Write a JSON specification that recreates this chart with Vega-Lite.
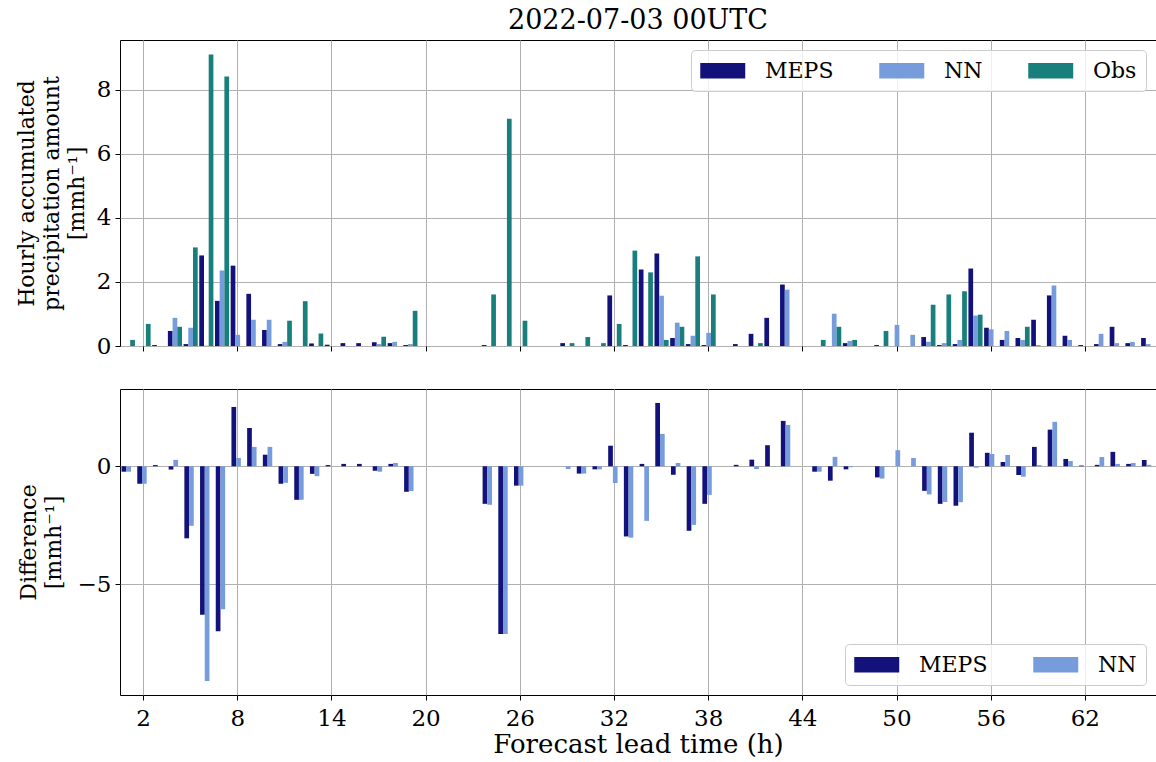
{
  "$schema": "https://vega.github.io/schema/vega-lite/v6.json",
  "background": "white",
  "padding": {"left": 14, "top": 6, "right": 0, "bottom": 0},
  "spacing": 29,
  "config": {
    "font": "DejaVu Serif",
    "view": {"stroke": "#000000", "strokeWidth": 1},
    "axis": {
      "labelFont": "DejaVu Serif", "titleFont": "DejaVu Serif",
      "labelFontSize": 23, "titleFontSize": 22, "titleFontWeight": "normal",
      "labelColor": "#000000", "titleColor": "#000000", "tickColor": "#000000",
      "domain": false, "gridColor": "#b0b0b0", "gridWidth": 1, "gridOpacity": 1,
      "tickSize": 5, "tickWidth": 1, "labelPadding": 4, "zindex": 1, "titleLineHeight": 25
    },
    "legend": {
      "title": null, "direction": "horizontal", "gridAlign": "each",
      "symbolType": "M-1,-0.7H3V0.7H-1Z", "symbolSize": 506, "symbolStrokeWidth": 0, "symbolOpacity": 1,
      "labelFont": "DejaVu Serif", "labelFontSize": 22, "labelColor": "#000000",
      "labelOffset": 42, "columnPadding": 45, "padding": 9, "offset": 10,
      "fillColor": "rgba(255,255,255,0.8)", "strokeColor": "#cccccc", "strokeWidth": 1, "cornerRadius": 4
    }
  },
  "datasets": {
    "top": [
      {"lead":1,"model":"MEPS","value":0},{"lead":1,"model":"NN","value":0},{"lead":1,"model":"Obs","value":0.19},
      {"lead":2,"model":"MEPS","value":0},{"lead":2,"model":"NN","value":0},{"lead":2,"model":"Obs","value":0.69},
      {"lead":3,"model":"MEPS","value":0.03},{"lead":3,"model":"NN","value":0},{"lead":3,"model":"Obs","value":0},
      {"lead":4,"model":"MEPS","value":0.47},{"lead":4,"model":"NN","value":0.88},{"lead":4,"model":"Obs","value":0.6},
      {"lead":5,"model":"MEPS","value":0.06},{"lead":5,"model":"NN","value":0.57},{"lead":5,"model":"Obs","value":3.08},
      {"lead":6,"model":"MEPS","value":2.83},{"lead":6,"model":"NN","value":0.01},{"lead":6,"model":"Obs","value":9.11},
      {"lead":7,"model":"MEPS","value":1.41},{"lead":7,"model":"NN","value":2.36},{"lead":7,"model":"Obs","value":8.42},
      {"lead":8,"model":"MEPS","value":2.51},{"lead":8,"model":"NN","value":0.35},{"lead":8,"model":"Obs","value":0},
      {"lead":9,"model":"MEPS","value":1.63},{"lead":9,"model":"NN","value":0.82},{"lead":9,"model":"Obs","value":0},
      {"lead":10,"model":"MEPS","value":0.5},{"lead":10,"model":"NN","value":0.82},{"lead":10,"model":"Obs","value":0},
      {"lead":11,"model":"MEPS","value":0.06},{"lead":11,"model":"NN","value":0.13},{"lead":11,"model":"Obs","value":0.79},
      {"lead":12,"model":"MEPS","value":0},{"lead":12,"model":"NN","value":0},{"lead":12,"model":"Obs","value":1.4},
      {"lead":13,"model":"MEPS","value":0.08},{"lead":13,"model":"NN","value":0},{"lead":13,"model":"Obs","value":0.39},
      {"lead":14,"model":"MEPS","value":0.04},{"lead":14,"model":"NN","value":0},{"lead":14,"model":"Obs","value":0},
      {"lead":15,"model":"MEPS","value":0.09},{"lead":15,"model":"NN","value":0},{"lead":15,"model":"Obs","value":0},
      {"lead":16,"model":"MEPS","value":0.09},{"lead":16,"model":"NN","value":0},{"lead":16,"model":"Obs","value":0},
      {"lead":17,"model":"MEPS","value":0.12},{"lead":17,"model":"NN","value":0.06},{"lead":17,"model":"Obs","value":0.29},
      {"lead":18,"model":"MEPS","value":0.09},{"lead":18,"model":"NN","value":0.13},{"lead":18,"model":"Obs","value":0},
      {"lead":19,"model":"MEPS","value":0.03},{"lead":19,"model":"NN","value":0.06},{"lead":19,"model":"Obs","value":1.1},
      {"lead":20,"model":"MEPS","value":0},{"lead":20,"model":"NN","value":0},{"lead":20,"model":"Obs","value":0},
      {"lead":21,"model":"MEPS","value":0},{"lead":21,"model":"NN","value":0},{"lead":21,"model":"Obs","value":0},
      {"lead":22,"model":"MEPS","value":0},{"lead":22,"model":"NN","value":0},{"lead":22,"model":"Obs","value":0},
      {"lead":23,"model":"MEPS","value":0},{"lead":23,"model":"NN","value":0},{"lead":23,"model":"Obs","value":0},
      {"lead":24,"model":"MEPS","value":0.03},{"lead":24,"model":"NN","value":0},{"lead":24,"model":"Obs","value":1.61},
      {"lead":25,"model":"MEPS","value":0},{"lead":25,"model":"NN","value":0},{"lead":25,"model":"Obs","value":7.1},
      {"lead":26,"model":"MEPS","value":0},{"lead":26,"model":"NN","value":0},{"lead":26,"model":"Obs","value":0.79},
      {"lead":27,"model":"MEPS","value":0},{"lead":27,"model":"NN","value":0},{"lead":27,"model":"Obs","value":0},
      {"lead":28,"model":"MEPS","value":0},{"lead":28,"model":"NN","value":0},{"lead":28,"model":"Obs","value":0},
      {"lead":29,"model":"MEPS","value":0.09},{"lead":29,"model":"NN","value":0},{"lead":29,"model":"Obs","value":0.09},
      {"lead":30,"model":"MEPS","value":0},{"lead":30,"model":"NN","value":0},{"lead":30,"model":"Obs","value":0.28},
      {"lead":31,"model":"MEPS","value":0},{"lead":31,"model":"NN","value":0},{"lead":31,"model":"Obs","value":0.09},
      {"lead":32,"model":"MEPS","value":1.58},{"lead":32,"model":"NN","value":0},{"lead":32,"model":"Obs","value":0.69},
      {"lead":33,"model":"MEPS","value":0.03},{"lead":33,"model":"NN","value":0},{"lead":33,"model":"Obs","value":2.98},
      {"lead":34,"model":"MEPS","value":2.39},{"lead":34,"model":"NN","value":0},{"lead":34,"model":"Obs","value":2.3},
      {"lead":35,"model":"MEPS","value":2.89},{"lead":35,"model":"NN","value":1.57},{"lead":35,"model":"Obs","value":0.19},
      {"lead":36,"model":"MEPS","value":0.25},{"lead":36,"model":"NN","value":0.73},{"lead":36,"model":"Obs","value":0.6},
      {"lead":37,"model":"MEPS","value":0.06},{"lead":37,"model":"NN","value":0.32},{"lead":37,"model":"Obs","value":2.8},
      {"lead":38,"model":"MEPS","value":0.03},{"lead":38,"model":"NN","value":0.41},{"lead":38,"model":"Obs","value":1.61},
      {"lead":39,"model":"MEPS","value":0},{"lead":39,"model":"NN","value":0},{"lead":39,"model":"Obs","value":0},
      {"lead":40,"model":"MEPS","value":0.06},{"lead":40,"model":"NN","value":0},{"lead":40,"model":"Obs","value":0},
      {"lead":41,"model":"MEPS","value":0.38},{"lead":41,"model":"NN","value":0},{"lead":41,"model":"Obs","value":0.09},
      {"lead":42,"model":"MEPS","value":0.88},{"lead":42,"model":"NN","value":0},{"lead":42,"model":"Obs","value":0},
      {"lead":43,"model":"MEPS","value":1.92},{"lead":43,"model":"NN","value":1.76},{"lead":43,"model":"Obs","value":0},
      {"lead":44,"model":"MEPS","value":0},{"lead":44,"model":"NN","value":0},{"lead":44,"model":"Obs","value":0},
      {"lead":45,"model":"MEPS","value":0},{"lead":45,"model":"NN","value":0},{"lead":45,"model":"Obs","value":0.19},
      {"lead":46,"model":"MEPS","value":0},{"lead":46,"model":"NN","value":1.01},{"lead":46,"model":"Obs","value":0.6},
      {"lead":47,"model":"MEPS","value":0.09},{"lead":47,"model":"NN","value":0.16},{"lead":47,"model":"Obs","value":0.19},
      {"lead":48,"model":"MEPS","value":0},{"lead":48,"model":"NN","value":0},{"lead":48,"model":"Obs","value":0},
      {"lead":49,"model":"MEPS","value":0.03},{"lead":49,"model":"NN","value":0},{"lead":49,"model":"Obs","value":0.47},
      {"lead":50,"model":"MEPS","value":0},{"lead":50,"model":"NN","value":0.66},{"lead":50,"model":"Obs","value":0},
      {"lead":51,"model":"MEPS","value":0},{"lead":51,"model":"NN","value":0.35},{"lead":51,"model":"Obs","value":0},
      {"lead":52,"model":"MEPS","value":0.28},{"lead":52,"model":"NN","value":0.13},{"lead":52,"model":"Obs","value":1.29},
      {"lead":53,"model":"MEPS","value":0.03},{"lead":53,"model":"NN","value":0.09},{"lead":53,"model":"Obs","value":1.61},
      {"lead":54,"model":"MEPS","value":0.06},{"lead":54,"model":"NN","value":0.19},{"lead":54,"model":"Obs","value":1.71},
      {"lead":55,"model":"MEPS","value":2.42},{"lead":55,"model":"NN","value":0.95},{"lead":55,"model":"Obs","value":0.98},
      {"lead":56,"model":"MEPS","value":0.57},{"lead":56,"model":"NN","value":0.52},{"lead":56,"model":"Obs","value":0},
      {"lead":57,"model":"MEPS","value":0.19},{"lead":57,"model":"NN","value":0.47},{"lead":57,"model":"Obs","value":0},
      {"lead":58,"model":"MEPS","value":0.25},{"lead":58,"model":"NN","value":0.19},{"lead":58,"model":"Obs","value":0.6},
      {"lead":59,"model":"MEPS","value":0.82},{"lead":59,"model":"NN","value":0.03},{"lead":59,"model":"Obs","value":0},
      {"lead":60,"model":"MEPS","value":1.58},{"lead":60,"model":"NN","value":1.89},{"lead":60,"model":"Obs","value":0},
      {"lead":61,"model":"MEPS","value":0.32},{"lead":61,"model":"NN","value":0.19},{"lead":61,"model":"Obs","value":0},
      {"lead":62,"model":"MEPS","value":0.03},{"lead":62,"model":"NN","value":0},{"lead":62,"model":"Obs","value":0},
      {"lead":63,"model":"MEPS","value":0.06},{"lead":63,"model":"NN","value":0.38},{"lead":63,"model":"Obs","value":0},
      {"lead":64,"model":"MEPS","value":0.6},{"lead":64,"model":"NN","value":0.09},{"lead":64,"model":"Obs","value":0},
      {"lead":65,"model":"MEPS","value":0.09},{"lead":65,"model":"NN","value":0.13},{"lead":65,"model":"Obs","value":0},
      {"lead":66,"model":"MEPS","value":0.25},{"lead":66,"model":"NN","value":0.06},{"lead":66,"model":"Obs","value":0}
    ],
    "bottom": [
      {"lead":1,"model":"MEPS","value":-0.23},{"lead":1,"model":"NN","value":-0.23},
      {"lead":2,"model":"MEPS","value":-0.74},{"lead":2,"model":"NN","value":-0.74},
      {"lead":3,"model":"MEPS","value":0.05},{"lead":3,"model":"NN","value":0},
      {"lead":4,"model":"MEPS","value":-0.14},{"lead":4,"model":"NN","value":0.27},
      {"lead":5,"model":"MEPS","value":-3.05},{"lead":5,"model":"NN","value":-2.52},
      {"lead":6,"model":"MEPS","value":-6.28},{"lead":6,"model":"NN","value":-9.09},
      {"lead":7,"model":"MEPS","value":-6.98},{"lead":7,"model":"NN","value":-6.05},
      {"lead":8,"model":"MEPS","value":2.51},{"lead":8,"model":"NN","value":0.35},
      {"lead":9,"model":"MEPS","value":1.62},{"lead":9,"model":"NN","value":0.82},
      {"lead":10,"model":"MEPS","value":0.49},{"lead":10,"model":"NN","value":0.82},
      {"lead":11,"model":"MEPS","value":-0.74},{"lead":11,"model":"NN","value":-0.7},
      {"lead":12,"model":"MEPS","value":-1.42},{"lead":12,"model":"NN","value":-1.42},
      {"lead":13,"model":"MEPS","value":-0.32},{"lead":13,"model":"NN","value":-0.42},
      {"lead":14,"model":"MEPS","value":0.05},{"lead":14,"model":"NN","value":0},
      {"lead":15,"model":"MEPS","value":0.1},{"lead":15,"model":"NN","value":0},
      {"lead":16,"model":"MEPS","value":0.1},{"lead":16,"model":"NN","value":0},
      {"lead":17,"model":"MEPS","value":-0.19},{"lead":17,"model":"NN","value":-0.23},
      {"lead":18,"model":"MEPS","value":0.1},{"lead":18,"model":"NN","value":0.14},
      {"lead":19,"model":"MEPS","value":-1.08},{"lead":19,"model":"NN","value":-1.05},
      {"lead":20,"model":"MEPS","value":0},{"lead":20,"model":"NN","value":0},
      {"lead":21,"model":"MEPS","value":0},{"lead":21,"model":"NN","value":0},
      {"lead":22,"model":"MEPS","value":0},{"lead":22,"model":"NN","value":0},
      {"lead":23,"model":"MEPS","value":0},{"lead":23,"model":"NN","value":0},
      {"lead":24,"model":"MEPS","value":-1.59},{"lead":24,"model":"NN","value":-1.63},
      {"lead":25,"model":"MEPS","value":-7.1},{"lead":25,"model":"NN","value":-7.1},
      {"lead":26,"model":"MEPS","value":-0.82},{"lead":26,"model":"NN","value":-0.82},
      {"lead":27,"model":"MEPS","value":0},{"lead":27,"model":"NN","value":0},
      {"lead":28,"model":"MEPS","value":0},{"lead":28,"model":"NN","value":0},
      {"lead":29,"model":"MEPS","value":0},{"lead":29,"model":"NN","value":-0.12},
      {"lead":30,"model":"MEPS","value":-0.31},{"lead":30,"model":"NN","value":-0.31},
      {"lead":31,"model":"MEPS","value":-0.13},{"lead":31,"model":"NN","value":-0.13},
      {"lead":32,"model":"MEPS","value":0.87},{"lead":32,"model":"NN","value":-0.71},
      {"lead":33,"model":"MEPS","value":-2.97},{"lead":33,"model":"NN","value":-3.02},
      {"lead":34,"model":"MEPS","value":0.1},{"lead":34,"model":"NN","value":-2.31},
      {"lead":35,"model":"MEPS","value":2.68},{"lead":35,"model":"NN","value":1.37},
      {"lead":36,"model":"MEPS","value":-0.36},{"lead":36,"model":"NN","value":0.14},
      {"lead":37,"model":"MEPS","value":-2.73},{"lead":37,"model":"NN","value":-2.48},
      {"lead":38,"model":"MEPS","value":-1.59},{"lead":38,"model":"NN","value":-1.21},
      {"lead":39,"model":"MEPS","value":0},{"lead":39,"model":"NN","value":0},
      {"lead":40,"model":"MEPS","value":0.06},{"lead":40,"model":"NN","value":0},
      {"lead":41,"model":"MEPS","value":0.28},{"lead":41,"model":"NN","value":-0.12},
      {"lead":42,"model":"MEPS","value":0.89},{"lead":42,"model":"NN","value":0},
      {"lead":43,"model":"MEPS","value":1.92},{"lead":43,"model":"NN","value":1.75},
      {"lead":44,"model":"MEPS","value":0},{"lead":44,"model":"NN","value":0},
      {"lead":45,"model":"MEPS","value":-0.23},{"lead":45,"model":"NN","value":-0.23},
      {"lead":46,"model":"MEPS","value":-0.61},{"lead":46,"model":"NN","value":0.4},
      {"lead":47,"model":"MEPS","value":-0.13},{"lead":47,"model":"NN","value":-0.04},
      {"lead":48,"model":"MEPS","value":0},{"lead":48,"model":"NN","value":0},
      {"lead":49,"model":"MEPS","value":-0.47},{"lead":49,"model":"NN","value":-0.52},
      {"lead":50,"model":"MEPS","value":0},{"lead":50,"model":"NN","value":0.68},
      {"lead":51,"model":"MEPS","value":0},{"lead":51,"model":"NN","value":0.35},
      {"lead":52,"model":"MEPS","value":-1.04},{"lead":52,"model":"NN","value":-1.19},
      {"lead":53,"model":"MEPS","value":-1.59},{"lead":53,"model":"NN","value":-1.51},
      {"lead":54,"model":"MEPS","value":-1.67},{"lead":54,"model":"NN","value":-1.52},
      {"lead":55,"model":"MEPS","value":1.42},{"lead":55,"model":"NN","value":-0.06},
      {"lead":56,"model":"MEPS","value":0.57},{"lead":56,"model":"NN","value":0.52},
      {"lead":57,"model":"MEPS","value":0.18},{"lead":57,"model":"NN","value":0.48},
      {"lead":58,"model":"MEPS","value":-0.37},{"lead":58,"model":"NN","value":-0.44},
      {"lead":59,"model":"MEPS","value":0.82},{"lead":59,"model":"NN","value":0.05},
      {"lead":60,"model":"MEPS","value":1.55},{"lead":60,"model":"NN","value":1.88},
      {"lead":61,"model":"MEPS","value":0.31},{"lead":61,"model":"NN","value":0.22},
      {"lead":62,"model":"MEPS","value":0.03},{"lead":62,"model":"NN","value":0},
      {"lead":63,"model":"MEPS","value":0.06},{"lead":63,"model":"NN","value":0.39},
      {"lead":64,"model":"MEPS","value":0.61},{"lead":64,"model":"NN","value":0.1},
      {"lead":65,"model":"MEPS","value":0.1},{"lead":65,"model":"NN","value":0.14},
      {"lead":66,"model":"MEPS","value":0.26},{"lead":66,"model":"NN","value":0.06}
    ]
  },
  "vconcat": [
    {
      "width": 1036, "height": 306,
      "title": {"text": "2022-07-03 00UTC", "font": "DejaVu Serif", "fontSize": 27, "fontWeight": "normal", "color": "#000000", "anchor": "middle", "frame": "group", "offset": 5},
      "data": {"name": "top"},
      "mark": {"type": "bar"},
      "encoding": {
        "x": {"field": "lead", "type": "ordinal", "scale": {"paddingInner": 0.1, "paddingOuter": 0.05},
              "axis": {"values": [2,8,14,20,26,32,38,44,50,56,62], "labels": false, "title": null, "grid": true, "bandPosition": 0.5}},
        "xOffset": {"field": "model", "type": "nominal", "scale": {"domain": ["MEPS","NN","Obs"], "paddingInner": 0, "paddingOuter": 0}},
        "y": {"field": "value", "type": "quantitative", "scale": {"domain": [0, 9.56], "nice": false, "zero": false},
              "axis": {"values": [0,2,4,6,8], "grid": true, "title": ["Hourly accumulated", "precipitation amount", "[mmh⁻¹]"], "titlePadding": 8}},
        "color": {"field": "model", "type": "nominal",
                  "scale": {"domain": ["MEPS","NN","Obs"], "range": ["#12127a", "#769cdc", "#187f7c"]},
                  "legend": {"orient": "top-right", "columns": 3}}
      }
    },
    {
      "width": 1036, "height": 306,
      "data": {"name": "bottom"},
      "mark": {"type": "bar"},
      "encoding": {
        "x": {"field": "lead", "type": "ordinal", "scale": {"paddingInner": 0.2, "paddingOuter": 0.1},
              "axis": {"values": [2,8,14,20,26,32,38,44,50,56,62], "labelAngle": 0, "grid": true, "bandPosition": 0.5, "title": "Forecast lead time (h)", "titleFontSize": 26, "titlePadding": 1, "labelPadding": 7}},
        "xOffset": {"field": "model", "type": "nominal", "scale": {"domain": ["MEPS","NN"], "paddingInner": 0, "paddingOuter": 0}},
        "y": {"field": "value", "type": "quantitative", "scale": {"domain": [-9.68, 3.27], "nice": false, "zero": false},
              "axis": {"values": [-5, 0], "grid": true, "title": ["Difference", "[mmh⁻¹]"], "titlePadding": 12}},
        "color": {"field": "model", "type": "nominal",
                  "scale": {"domain": ["MEPS","NN"], "range": ["#12127a", "#769cdc"]},
                  "legend": {"orient": "bottom-right", "columns": 2}}
      }
    }
  ],
  "resolve": {"scale": {"color": "independent", "x": "independent", "y": "independent"}, "legend": {"color": "independent"}}
}
